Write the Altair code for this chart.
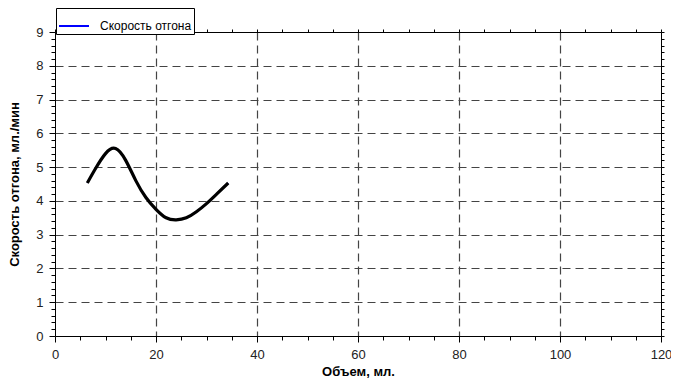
import altair as alt
import pandas as pd

# Data
x_vals = [6.4, 8, 10, 12, 14, 16, 18, 20, 22, 24, 26, 28, 30, 32, 34.3]
y_vals = [4.53, 4.95, 5.4, 5.55, 5.2, 4.6, 4.1, 3.75, 3.5, 3.44, 3.5, 3.68, 3.92, 4.2, 4.53]
series_name = "Скорость отгона"
x_ticks = [0, 5, 10, 15, 20, 25, 30, 35, 40, 45, 50, 55, 60, 65, 70, 75, 80, 85, 90, 95, 100, 105, 110, 115, 120]
y_ticks = [i / 5 for i in range(0, 46)]

df = pd.DataFrame({"x": x_vals, "y": y_vals, "s": [series_name] * len(x_vals)})

FONT = "Liberation Sans"
major_x = "datum.value % 20 === 0"
major_y = "abs(datum.value - round(datum.value)) < 0.001"

x_axis = alt.Axis(
    title="Объем, мл.", values=x_ticks,
    labelExpr=f"{major_x} ? datum.label : ''",
    grid=True, gridColor="#444", gridDash=[8, 5], gridWidth=1.2,
    gridOpacity={"condition": {"test": f"{major_x} && datum.value > 0 && datum.value < 120", "value": 1}, "value": 0},
    tickSize={"condition": {"test": major_x, "value": 6}, "value": 4},
    tickColor="black", domainColor="black", labelFontSize=13, labelColor="#222",
    labelFont=FONT, titleFont=FONT, titleFontSize=13, titleFontWeight="bold",
    titleColor="black", titlePadding=4, labelPadding=6, labelFlush=False,
)
y_axis = alt.Axis(
    title="Скорость отгона, мл./мин", values=y_ticks,
    labelExpr=f"{major_y} ? toString(round(datum.value)) : ''",
    grid=True, gridColor="#444", gridDash=[8, 5], gridWidth=1.2,
    gridOpacity={"condition": {"test": f"{major_y} && datum.value > 0 && datum.value < 9", "value": 1}, "value": 0},
    tickSize={"condition": {"test": major_y, "value": 6}, "value": 4},
    tickColor="black", domainColor="black", labelFontSize=13, labelColor="#222",
    labelFont=FONT, titleFont=FONT, titleFontSize=13, titleFontWeight="bold",
    titleColor="black", titlePadding=14, labelPadding=6, labelFlush=False,
    labelOverlap=False,
)

xs = alt.Scale(domain=[0, 120], nice=False, zero=False)
ys = alt.Scale(domain=[0, 9], nice=False, zero=False)

blue = alt.Chart(df).mark_line(strokeWidth=1.5, interpolate="natural").encode(
    x=alt.X("x:Q", scale=xs, axis=alt.Axis(orient="top", values=x_ticks, labels=False, title=None,
                                           grid=False, tickSize=3, tickColor="black", domainColor="black")),
    y=alt.Y("y:Q", scale=ys, axis=alt.Axis(orient="right", values=y_ticks, labels=False, title=None,
                                           grid=False, tickSize=3, tickColor="black", domainColor="black")),
    color=alt.Color("s:N", scale=alt.Scale(range=["#0000ff"]),
                    legend=alt.Legend(title=None, orient="none", legendX=1, legendY=-24,
                                      symbolType="stroke", symbolSize=900, symbolStrokeWidth=2,
                                      labelFont=FONT, labelFontSize=12, labelColor="black",
                                      strokeColor="black", fillColor="white", padding=2,
                                      labelOffset=10, rowPadding=0)),
)

black = alt.Chart(df).mark_line(strokeWidth=3.2, color="black", interpolate="natural").encode(
    x=alt.X("x:Q", scale=xs, axis=x_axis),
    y=alt.Y("y:Q", scale=ys, axis=y_axis),
)

chart = alt.layer(blue, black).resolve_axis(x="independent", y="independent").properties(
    width=606, height=304,
    autosize=alt.AutoSizeParams(type="none"),
    padding={"left": 47, "top": 24, "right": 10, "bottom": 44},
).configure_view(stroke="black", strokeWidth=1).configure(background="white")

chart.save("out.html", embed_options={"renderer": "svg", "actions": False})
